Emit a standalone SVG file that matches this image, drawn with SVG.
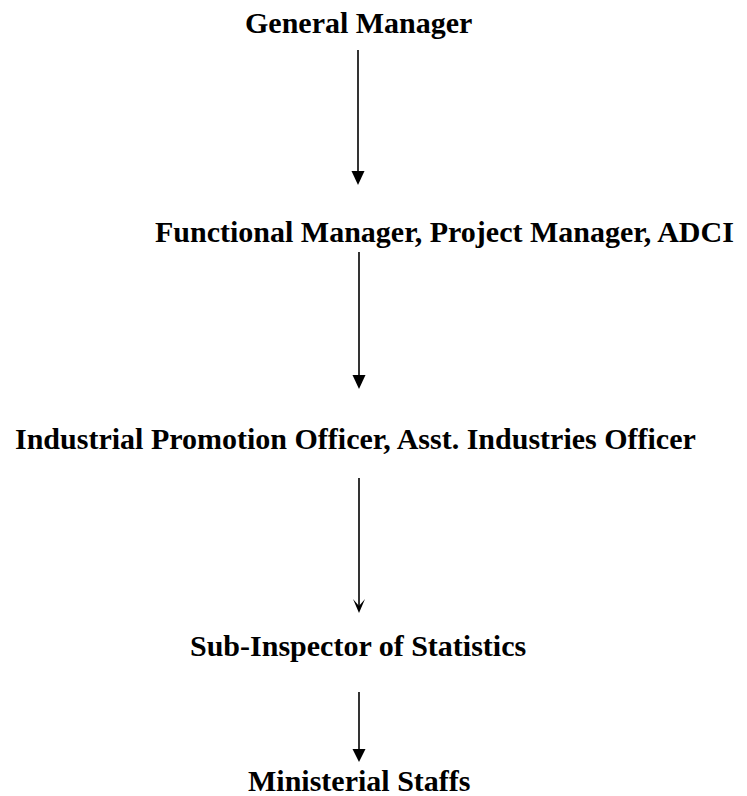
<svg xmlns="http://www.w3.org/2000/svg" width="747" height="796" viewBox="0 0 747 796">
<style>
.lbl{font-family:"Liberation Serif","Times New Roman",serif;font-weight:bold;font-size:30px;fill:#000}
.ln{stroke:#000;stroke-width:1.6;fill:none}
.hd{fill:#000;stroke:none}
</style>
<rect width="747" height="796" fill="#fff"/>
<g id="n1"><text class="lbl" x="245" y="33">General Manager</text></g>
<g id="n2"><text class="lbl" x="155" y="242">Functional Manager, Project Manager, ADCI</text></g>
<g id="n3"><text class="lbl" x="15" y="449">Industrial Promotion Officer, Asst. Industries Officer</text></g>
<g id="n4"><text class="lbl" x="190" y="656">Sub-Inspector of Statistics</text></g>
<g id="n5"><text class="lbl" x="248" y="791">Ministerial Staffs</text></g>
<g id="connectors">
<line class="ln" x1="358" y1="50" x2="358" y2="172"/>
<polygon class="hd" points="351.5,171 364.5,171 358,185"/>
<line class="ln" x1="359" y1="252" x2="359" y2="376"/>
<polygon class="hd" points="352.5,375 365.5,375 359,389"/>
<line class="ln" x1="359" y1="478" x2="359" y2="608"/>
<path class="hd" d="M353,599 L359,613 L365,599 L359,606 Z"/>
<line class="ln" x1="359" y1="692" x2="359" y2="750"/>
<polygon class="hd" points="352.5,749 365.5,749 359,762"/>
</g>
</svg>
